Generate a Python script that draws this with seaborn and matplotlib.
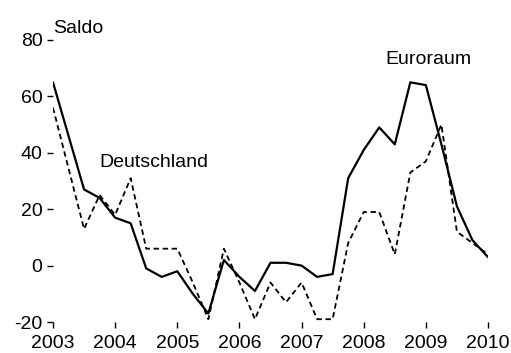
import matplotlib
matplotlib.use("Agg")
import matplotlib.pyplot as plt
import seaborn as sns
import pandas as pd

# Quarterly survey balance (Saldo), 2003 to 2010
quarters = [2003.0, 2003.5, 2003.75,
            2004.0, 2004.25, 2004.5, 2004.75,
            2005.0, 2005.25, 2005.5, 2005.75,
            2006.0, 2006.25, 2006.5, 2006.75,
            2007.0, 2007.25, 2007.5, 2007.75,
            2008.0, 2008.25, 2008.5, 2008.75,
            2009.0, 2009.25, 2009.5, 2009.75,
            2010.0]
euroraum = [65, 27, 24,
            17, 15, -1, -4,
            -2, -10, -17, 2,
            -4, -9, 1, 1,
            0, -4, -3, 31,
            41, 49, 43, 65,
            64, 43, 21, 9,
            3]
deutschland = [56, 13, 25,
               18, 31, 6, 6,
               6, -6, -19, 6,
               -6, -19, -6, -13,
               -6, -19, -19, 8,
               19, 19, 4, 33,
               37, 50, 12, 8,
               4]
year_ticks = [2003, 2004, 2005, 2006, 2007, 2008, 2009, 2010]
value_ticks = [-20, 0, 20, 40, 60, 80]

df = pd.concat([
    pd.DataFrame({"Quartal": quarters, "Saldo": euroraum, "Region": "Euroraum"}),
    pd.DataFrame({"Quartal": quarters, "Saldo": deutschland, "Region": "Deutschland"}),
], ignore_index=True)

sns.set_style("ticks")
plt.rcParams["font.family"] = ["Liberation Sans", "DejaVu Sans"]
plt.rcParams["text.color"] = "black"
plt.rcParams["xtick.color"] = "black"
plt.rcParams["ytick.color"] = "black"
FS = 14

fig = plt.figure(figsize=(5.11, 3.53), dpi=100)
ax = fig.add_axes([0.1037, 0.0878, 0.8513, 0.7989])

sns.lineplot(data=df, x="Quartal", y="Saldo", hue="Region", style="Region",
             palette={"Euroraum": "black", "Deutschland": "black"},
             dashes={"Euroraum": "", "Deutschland": (3, 2)},
             size="Region", sizes={"Euroraum": 1.6, "Deutschland": 1.3},
             legend=False, ax=ax)

ax.set_xlim(2003, 2010)
ax.set_ylim(-20, 80)
ax.set_xticks(year_ticks)
ax.set_xticklabels([str(y) for y in year_ticks])
ax.set_yticks(value_ticks)
ax.set_yticklabels([str(v) for v in value_ticks])
ax.set_xlabel("")
ax.set_ylabel("")
sns.despine(ax=ax, left=True, bottom=True, top=True, right=True)
ax.tick_params(axis="both", direction="out", length=4.5, width=1.0,
               color="black", labelsize=FS, labelcolor="black")
ax.tick_params(axis="x", pad=4.5)
ax.tick_params(axis="y", pad=3)

ax.text(2003.0, 82.6, "Saldo", ha="left", va="baseline", fontsize=FS, clip_on=False)
ax.text(2003.74, 35.1, "Deutschland", ha="left", va="baseline", fontsize=FS)
ax.text(2008.35, 71.5, "Euroraum", ha="left", va="baseline", fontsize=FS)

fig.savefig("out.png", dpi=100)
